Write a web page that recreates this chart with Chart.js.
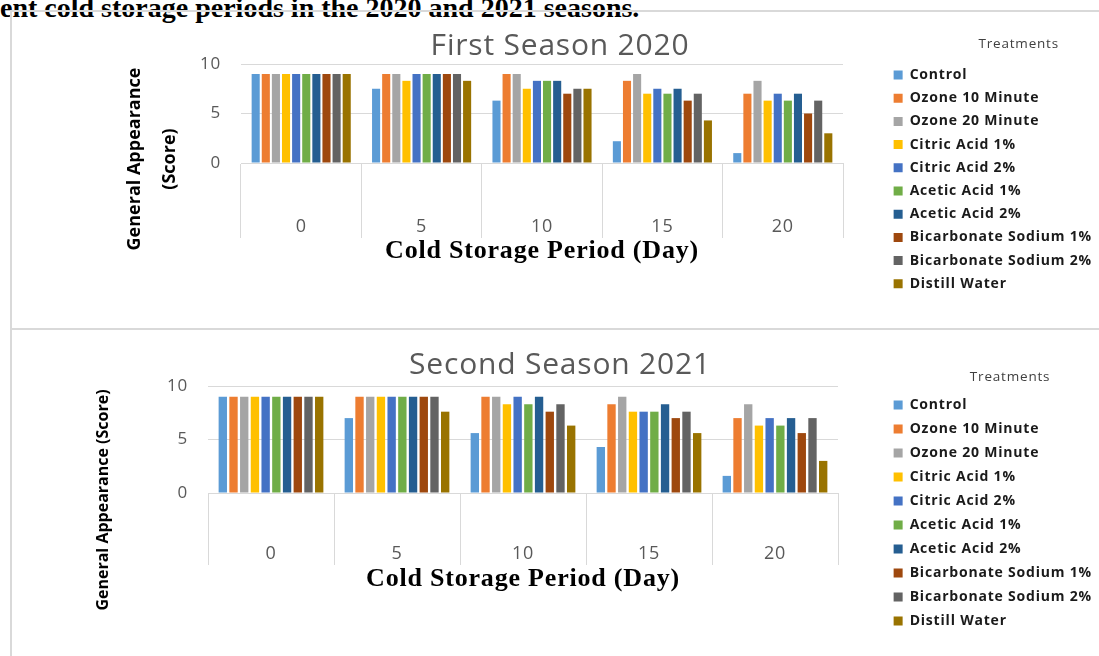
<!DOCTYPE html>
<html>
<head>
<meta charset="utf-8">
<title>General Appearance</title>
<script src="https://cdn.jsdelivr.net/npm/chart.js@4.4.1/dist/chart.umd.min.js"></script>
<style>
  html, body { margin: 0; padding: 0; background: #fff; }
  body { width: 1099px; height: 656px; position: relative; overflow: hidden; }
  .caption { position: absolute; left: 0; top: -8px; font: bold 28px "Liberation Serif", "Times New Roman", serif; white-space: nowrap; color: #000; }
  .frame { position: absolute; left: 10px; width: 1200px; border-top: 2px solid #d9d9d9; border-left: 2px solid #d9d9d9; }
  #frame1 { top: 10px; height: 316px; }
  #frame2 { top: 328px; height: 400px; }
  .box { position: absolute; left: 18px; width: 1084px; }
  #box1 { top: 22px; height: 300px; }
  #box2 { top: 340px; height: 310px; }
</style>
</head>
<body>
<div class="caption">ent cold storage periods in the 2020 and 2021 seasons.</div>
<div class="frame" id="frame1"></div>
<div class="frame" id="frame2"></div>
<div class="box" id="box1"><canvas id="season1"></canvas></div>
<div class="box" id="box2"><canvas id="season2"></canvas></div>

<script>
const days = ['0', '5', '10', '15', '20'];
const treatments = [
  'Control', 'Ozone 10 Minute', 'Ozone 20 Minute', 'Citric Acid 1%', 'Citric Acid 2%',
  'Acetic Acid 1%', 'Acetic Acid 2%', 'Bicarbonate Sodium 1%', 'Bicarbonate Sodium 2%', 'Distill Water'
];
const colors = ['#5b9bd5', '#ed7d31', '#a5a5a5', '#ffc000', '#4472c4',
                '#70ad47', '#255e91', '#9e480e', '#636363', '#997300'];

// one row per treatment, one value per storage day
const scores2020 = [
  [9, 7.5, 6.3, 2.2, 1.0],
  [9, 9, 9, 8.3, 7],
  [9, 9, 9, 9, 8.3],
  [9, 8.3, 7.5, 7, 6.3],
  [9, 9, 8.3, 7.5, 7],
  [9, 9, 8.3, 7, 6.3],
  [9, 9, 8.3, 7.5, 7],
  [9, 9, 7, 6.3, 5],
  [9, 9, 7.5, 7, 6.3],
  [9, 8.3, 7.5, 4.3, 3]
];
const scores2021 = [
  [9, 7, 5.6, 4.3, 1.6],
  [9, 9, 9, 8.3, 7],
  [9, 9, 9, 9, 8.3],
  [9, 9, 8.3, 7.6, 6.3],
  [9, 9, 9, 7.6, 7],
  [9, 9, 8.3, 7.6, 6.3],
  [9, 9, 9, 8.3, 7],
  [9, 9, 7.6, 7, 5.6],
  [9, 9, 8.3, 7.6, 7],
  [9, 7.6, 6.3, 5.6, 3]
];

const gridColor = '#d9d9d9';
const textGrey = '#595959';

// wider text spacing for everything drawn on the canvas
const spacing = {
  id: 'spacing',
  beforeUpdate(chart, args, opts) { chart.ctx.letterSpacing = opts.value; },
  beforeDraw(chart, args, opts) { chart.ctx.letterSpacing = opts.value; }
};

// rotated y title, centred on the plot plus the category boxes below it
const sideTitle = {
  id: 'sideTitle',
  afterDraw(chart, args, opts) {
    const {ctx, chartArea} = chart;
    const tick = chart.options.scales.x.grid.tickLength;
    const cy = (chartArea.top + chartArea.bottom + tick) / 2 + opts.shift;
    ctx.save();
    ctx.letterSpacing = '0px';
    ctx.translate(opts.x, cy);
    ctx.rotate(-Math.PI / 2);
    ctx.font = opts.font;
    ctx.fillStyle = '#000';
    ctx.textAlign = 'center';
    ctx.textBaseline = 'middle';
    opts.lines.forEach((line, i) => ctx.fillText(line, 0, i * opts.lineGap));
    ctx.restore();
  }
};

function makeChart(id, heading, scores, g) {
  return new Chart(document.getElementById(id), {
    type: 'bar',
    data: {
      labels: days,
      datasets: treatments.map((name, i) => ({
        label: name,
        data: scores[i],
        backgroundColor: colors[i],
        borderWidth: 0,
        barPercentage: g.barPct,
        categoryPercentage: g.catPct
      }))
    },
    options: {
      responsive: true,
      maintainAspectRatio: false,
      animation: false,
      layout: { padding: 0 },
      scales: {
        x: {
          grid: { offset: true, drawOnChartArea: false, tickLength: g.tickLen, color: gridColor },
          border: { display: true, color: gridColor },
          ticks: { color: textGrey, padding: g.labelPad, font: { family: 'Open Sans', size: 18 } },
          title: {
            display: true,
            text: 'Cold Storage Period (Day)',
            color: '#000',
            font: { family: 'Liberation Serif', weight: 'bold', size: 26 },
            padding: { top: 0, bottom: g.xTitleBottom }
          },
          afterFit(scale) { scale.height = g.xHeight; }
        },
        y: {
          min: 0,
          max: 10,
          grid: { color: gridColor, drawTicks: false },
          border: { display: false },
          ticks: { stepSize: 5, color: textGrey, padding: 20, font: { family: 'Open Sans', size: 17 } },
          afterFit(scale) { scale.width = g.plotLeft; }
        },
        // empty strip between the plot and the legend
        gap: {
          position: 'right',
          display: true,
          grid: { display: false },
          border: { display: false },
          ticks: { display: false },
          afterFit(scale) {
            const chart = scale.chart;
            scale.width = Math.max(0, chart.width - chart.legend.width - g.plotRight);
          }
        }
      },
      plugins: {
        spacing: { value: '0.8px' },
        sideTitle: g.side,
        title: {
          display: true,
          text: heading,
          color: textGrey,
          font: { family: 'Open Sans', size: 30, weight: 'normal' },
          padding: { top: g.titleTop, bottom: g.titleBottom }
        },
        legend: {
          position: 'right',
          align: 'start',
          maxWidth: 400,
          title: {
            display: true,
            text: 'Treatments'.padEnd(g.legTitleWidth, ' '),
            position: 'end',
            color: '#404040',
            font: { family: 'Open Sans', size: 13.5 },
            padding: { top: g.legTitleTop, bottom: g.legTitleBottom }
          },
          labels: {
            boxWidth: 9,
            boxHeight: 9,
            padding: g.legPad,
            color: '#1a1a1a',
            font: { family: 'Open Sans', size: 14, weight: 'bold' }
          }
        },
        tooltip: { enabled: false }
      }
    },
    plugins: [spacing, sideTitle]
  });
}

makeChart('season1', 'First Season 2020', scores2020, {
  barPct: 0.8, catPct: 0.84,
  plotLeft: 223, plotRight: 825,
  xHeight: 159, tickLen: 75, labelPad: -21.8, xTitleBottom: 55,
  titleTop: 6, titleBottom: 0,
  legTitleWidth: 20, legTitleTop: 15.25, legTitleBottom: 5.35, legPad: 9.2,
  side: { x: 117, lineGap: 35, shift: 8, font: 'bold 18px "Open Sans"',
          lines: ['General Appearance', '(Score)'] }
});

makeChart('season2', 'Second Season 2021', scores2021, {
  barPct: 0.78, catPct: 0.85,
  plotLeft: 190, plotRight: 820,
  xHeight: 157, tickLen: 72, labelPad: -22, xTitleBottom: 55,
  titleTop: 7, titleBottom: 3,
  legTitleWidth: 22, legTitleTop: 30.25, legTitleBottom: 1.55, legPad: 10,
  side: { x: 85, lineGap: 35, shift: 24.5, font: 'bold 16px "Open Sans"',
          lines: ['General Appearance (Score)'] }
});
</script>
</body>
</html>
